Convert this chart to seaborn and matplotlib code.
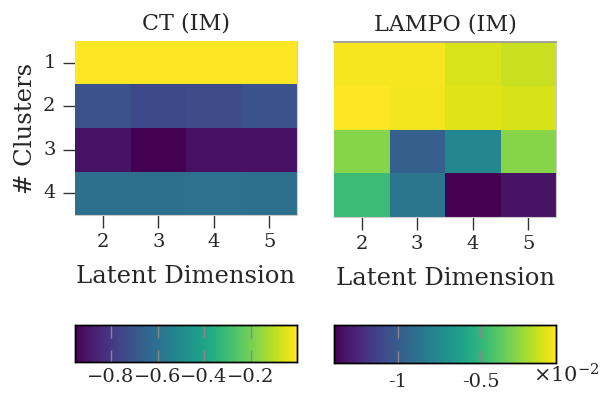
import numpy as np
import pandas as pd
import matplotlib
matplotlib.use("Agg")
import matplotlib.pyplot as plt
import seaborn as sns

sns.set_theme(style="white")
plt.rcParams['font.family'] = ['DejaVu Serif']
plt.rcParams['mathtext.fontset'] = 'dejavuserif'

latent_dims = [2, 3, 4, 5]
clusters = [1, 2, 3, 4]

ct_values = [
    [-0.001, -0.001, -0.001, -0.001],
    [-0.716, -0.745, -0.735, -0.716],
    [-0.907, -0.955, -0.917, -0.917],
    [-0.611, -0.611, -0.602, -0.611],
]
lampo_values = [
    [-0.00060, -0.00060, -0.00121, -0.00154],
    [-0.00043, -0.00069, -0.00110, -0.00124],
    [-0.00285, -0.00983, -0.00768, -0.00285],
    [-0.00473, -0.00862, -0.01386, -0.01319],
]

ct_range = (-0.955, 0.0)
lampo_range = (-0.01386, -0.00043)

fig = plt.figure(figsize=(6.14, 3.97), dpi=100)
W, H = 614, 397
def ax_at(x0, y0, x1, y1):
    return fig.add_axes([x0 / W, 1 - y1 / H, (x1 - x0) / W, (y1 - y0) / H])

ax1 = ax_at(75, 41, 297, 215)
ax2 = ax_at(334, 42, 556, 217)
cax1 = ax_at(75, 325, 297, 362)
cax2 = ax_at(334, 325, 556, 363)

df_ct = pd.DataFrame(ct_values, index=clusters, columns=latent_dims)
df_lampo = pd.DataFrame(lampo_values, index=clusters, columns=latent_dims)

sns.heatmap(df_ct, ax=ax1, cmap="viridis", vmin=ct_range[0], vmax=ct_range[1],
            cbar_ax=cax1, cbar_kws={"orientation": "horizontal"})
sns.heatmap(df_lampo, ax=ax2, cmap="viridis", vmin=lampo_range[0], vmax=lampo_range[1],
            cbar_ax=cax2, cbar_kws={"orientation": "horizontal"}, yticklabels=False)

for ax, title in [(ax1, "CT (IM)"), (ax2, "LAMPO (IM)")]:
    ax.set_title(title, fontsize=16, pad=8)
    ax.set_xlabel("Latent Dimension", fontsize=17.5, labelpad=10)
    ax.tick_params(axis='x', direction='out', length=9, width=1, color='#333333',
                   bottom=True, labelsize=14, rotation=0, pad=4)
    ax.tick_params(axis='y', direction='out', length=9, width=1, color='#333333',
                   left=True, labelsize=14, rotation=0, pad=5)
    for s in ['bottom', 'right']:
        ax.spines[s].set_visible(True)
        ax.spines[s].set_color('#cccccc')
        ax.spines[s].set_linewidth(0.8)

ax2.tick_params(axis='y', left=False)
ax2.set_ylabel("")
ax2.spines['top'].set_visible(True)
ax2.spines['top'].set_color('#999999')
ax1.set_ylabel("# Clusters", fontsize=17.5, labelpad=4)

# colorbars
for cax in (cax1, cax2):
    cax.set_axisbelow(False)
    for s in cax.spines.values():
        s.set_visible(True)
        s.set_color('black')
        s.set_linewidth(1)
        s.set_zorder(5)
    cax.tick_params(axis='x', direction='in', length=9, width=1, color='#888888',
                    labelsize=14, pad=4, top=True, bottom=True)

cax1.set_xticks([-0.8, -0.6, -0.4, -0.2])
cax1.set_xticklabels(["\u22120.8", "\u22120.6", "\u22120.4", "\u22120.2"])
cax2.set_xticks([-0.01, -0.005])
cax2.set_xticklabels(["-1", "-0.5"])
cax2.tick_params(axis='x', pad=7)
fig.text(566 / W, 1 - 375 / H, r"$\times10^{-2}$", fontsize=15, ha='center', va='center')

fig.savefig("out.png", dpi=100)
